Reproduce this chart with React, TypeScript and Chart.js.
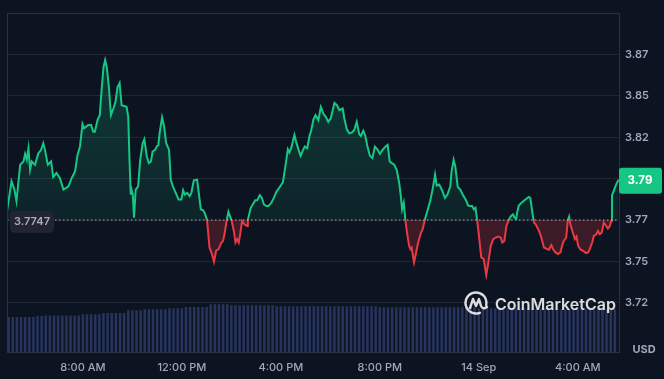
import React, { useEffect, useRef } from "react";
import { Chart, registerables } from "chart.js";

Chart.register(...registerables);

// ---------- data ----------
const BASE_PRICE = 3.7747;
const LAST_PRICE_LABEL = "3.79";
const CURRENCY = "USD";
const WATERMARK = "CoinMarketCap";

// x values: minutes since 00:00 on 13 Sep
const X_MIN = 296;
const X_MAX = 1780;
const X_TICKS = [480, 720, 960, 1200, 1440, 1680];
const X_TICK_LABELS = ["8:00 AM", "12:00 PM", "4:00 PM", "8:00 PM", "14 Sep", "4:00 AM"];

const Y_MIN = 3.6949;
const Y_MAX = 3.9001;
const Y_TICKS = [3.7247, 3.7497, 3.7747, 3.7997, 3.8247, 3.8497, 3.8747];
const Y_TICK_LABELS = ["3.72", "3.75", "3.77", "3.80", "3.82", "3.85", "3.87"];

const priceTimes = [
  296, 307, 314, 319, 328, 336, 340, 344, 348, 352, 356, 364, 372, 378, 384, 388, 395, 403, 408, 416,
  424, 433, 445, 453, 461, 467, 473, 479, 483, 493, 500, 505, 509, 516, 521, 525, 530, 534, 538, 543,
  548, 554, 559, 564, 569, 574, 582, 586, 590, 593, 596, 598, 601, 604, 608, 614, 619, 625, 629, 635,
  640, 645, 649, 655, 659, 663, 666, 672, 677, 682, 689, 693, 698, 707, 712, 719, 723, 727, 733, 739,
  743, 749, 757, 761, 766, 771, 775, 781, 787, 793, 798, 803, 809, 816, 820, 824, 829, 833, 838, 841,
  846, 850, 854, 858, 862, 866, 872, 878, 880, 887, 892, 898, 903, 909, 914, 919, 925, 930, 937, 943,
  949, 957, 965, 971, 977, 981, 985, 993, 997, 1003, 1008, 1014, 1018, 1024, 1030, 1033, 1039, 1044, 1051, 1057,
  1063, 1069, 1075, 1081, 1090, 1096, 1102, 1110, 1114, 1120, 1126, 1132, 1138, 1144, 1150, 1154, 1160, 1165, 1170, 1176,
  1182, 1188, 1195, 1200, 1207, 1212, 1219, 1224, 1229, 1235, 1241, 1247, 1251, 1254, 1258, 1262, 1266, 1271, 1274, 1277,
  1283, 1288, 1293, 1300, 1304, 1309, 1316, 1322, 1328, 1334, 1338, 1344, 1351, 1358, 1364, 1371, 1374, 1379, 1383, 1389,
  1395, 1401, 1409, 1414, 1418, 1424, 1428, 1432, 1436, 1440, 1446, 1452, 1458, 1462, 1469, 1475, 1481, 1486, 1493, 1497,
  1502, 1507, 1513, 1517, 1523, 1527, 1531, 1533, 1537, 1545, 1553, 1561, 1565, 1570, 1574, 1578, 1586, 1591, 1598, 1606,
  1610, 1616, 1620, 1626, 1632, 1638, 1642, 1646, 1652, 1656, 1659, 1662, 1668, 1673, 1677, 1681, 1687, 1693, 1700, 1705,
  1709, 1715, 1719, 1725, 1729, 1733, 1738, 1743, 1749, 1753, 1758, 1761, 1763, 1769, 1774, 1779,
];

const prices = [
  3.7801, 3.7981, 3.7931, 3.7861, 3.8081, 3.8101, 3.8147, 3.8111, 3.8181, 3.8051, 3.8101, 3.8081, 3.8151, 3.8167, 3.8211, 3.8171, 3.8081, 3.8101, 3.8007, 3.8031,
  3.8001, 3.7931, 3.7951, 3.8001, 3.8041, 3.8141, 3.8191, 3.8327, 3.8301, 3.8321, 3.8321, 3.8281, 3.8281, 3.8355, 3.8381, 3.8521, 3.8671, 3.8715, 3.8671, 3.8551,
  3.8381, 3.8421, 3.8461, 3.8551, 3.8575, 3.8441, 3.8435, 3.8431, 3.8371, 3.8111, 3.7901, 3.7931, 3.7901, 3.7761, 3.7931, 3.7951, 3.8111, 3.8211, 3.8235, 3.8131,
  3.8091, 3.8101, 3.8161, 3.8171, 3.8191, 3.8201, 3.8271, 3.8367, 3.8311, 3.8211, 3.8171, 3.7991, 3.7951, 3.7901, 3.7871, 3.7871, 3.7927, 3.7901, 3.7911, 3.7891,
  3.7911, 3.7987, 3.7991, 3.7911, 3.7811, 3.7807, 3.7791, 3.7747, 3.7581, 3.7541, 3.7495, 3.7561, 3.7571, 3.7611, 3.7621, 3.7671, 3.7747, 3.7797, 3.7761, 3.7741,
  3.7681, 3.7611, 3.7631, 3.7611, 3.7671, 3.7741, 3.7721, 3.7711, 3.7747, 3.7821, 3.7841, 3.7867, 3.7867, 3.7897, 3.7881, 3.7841, 3.7831, 3.7831, 3.7851, 3.7881,
  3.7917, 3.7945, 3.7975, 3.8071, 3.8175, 3.8155, 3.8181, 3.8261, 3.8221, 3.8171, 3.8135, 3.8171, 3.8191, 3.8181, 3.8261, 3.8281, 3.8355, 3.8381, 3.8351, 3.8431,
  3.8391, 3.8371, 3.8341, 3.8361, 3.8455, 3.8441, 3.8411, 3.8421, 3.8361, 3.8295, 3.8271, 3.8275, 3.8291, 3.8341, 3.8267, 3.8255, 3.8287, 3.8255, 3.8191, 3.8135,
  3.8121, 3.8191, 3.8171, 3.8147, 3.8171, 3.8187, 3.8201, 3.8101, 3.8091, 3.8081, 3.8051, 3.7971, 3.7891, 3.7811, 3.7851, 3.7747, 3.7671, 3.7591, 3.7571, 3.7581,
  3.7491, 3.7551, 3.7611, 3.7671, 3.7691, 3.7747, 3.7807, 3.7861, 3.7931, 3.8021, 3.7955, 3.7961, 3.7927, 3.7881, 3.7901, 3.7951, 3.8041, 3.8111, 3.8071, 3.7947,
  3.7931, 3.7901, 3.7867, 3.7835, 3.7831, 3.7831, 3.7811, 3.7821, 3.7747, 3.7661, 3.7521, 3.7511, 3.7415, 3.7471, 3.7591, 3.7631, 3.7641, 3.7647, 3.7641, 3.7611,
  3.7621, 3.7711, 3.7747, 3.7767, 3.7781, 3.7761, 3.7755, 3.7791, 3.7835, 3.7855, 3.7871, 3.7887, 3.7881, 3.7791, 3.7731, 3.7721, 3.7681, 3.7647, 3.7581, 3.7571,
  3.7567, 3.7595, 3.7571, 3.7551, 3.7541, 3.7551, 3.7591, 3.7621, 3.7641, 3.7747, 3.7767, 3.7721, 3.7671, 3.7631, 3.7647, 3.7591, 3.7567, 3.7561, 3.7547, 3.7551,
  3.7571, 3.7611, 3.7651, 3.7661, 3.7681, 3.7661, 3.7671, 3.7731, 3.7711, 3.7695, 3.7711, 3.7741, 3.7895, 3.7935, 3.7967, 3.7991,
];

// volume bars, one every 10 minutes starting at VOLUME_START
const VOLUME_START = 300;
const VOLUME_STEP = 10;
const VOLUME_AXIS_MAX = 3420;
const volumes = [
  353, 353, 353, 353, 353, 353, 353, 363, 363,
  367, 367, 367, 367, 367, 367, 367, 367, 367,
  380, 380, 380, 380, 380,
  393, 393, 393, 393, 393, 393,
  420, 420, 420, 420,
  430, 430, 430, 430, 430, 430,
  440, 440, 440, 440,
  453, 453, 453, 453, 453, 453,
  480, 480, 480, 480, 480,
  470, 470, 470, 470, 470, 470, 470, 470, 470, 470, 470,
  460, 460, 460, 460, 460, 460, 460, 460, 460, 460, 460, 460, 460, 460, 460, 460, 460, 460, 460, 460, 460, 460, 460, 460, 460,
  450, 450, 450, 450, 450, 450, 450, 450, 450, 450, 450, 450, 450, 450, 450, 450, 450, 450, 450, 450, 450, 450, 450, 450,
  440, 440, 440, 440, 440, 440, 440, 440, 440, 440, 440, 440, 440, 440, 440, 440, 440,
  432, 432, 432, 432, 432, 432, 432, 432, 432, 432, 432, 432, 432, 432, 432, 432, 432,
];

// ---------- styles ----------
const BG = "#0d1421";
const GREEN = "#16c784";
const RED = "#ea3943";
const TEXT = "#a1a7bb";
const GRID = "#222633";
const FRAME = "#2c3140";
const FONT = "Inter, 'Noto Sans', sans-serif";

export default function App() {
  const ref = useRef<HTMLCanvasElement>(null);

  useEffect(() => {
    const canvas = ref.current;
    if (!canvas) return;

    const baseFrac = (chart: any) => {
      const area = chart.chartArea;
      const yb = chart.scales.y.getPixelForValue(BASE_PRICE);
      return Math.min(1, Math.max(0, (yb - area.top) / (area.bottom - area.top)));
    };

    const lineColor = (ctx: any) => {
      const chart = ctx.chart;
      if (!chart.chartArea || !chart.scales.y) return GREEN;
      const area = chart.chartArea;
      const f = baseFrac(chart);
      const g = chart.ctx.createLinearGradient(0, area.top, 0, area.bottom);
      g.addColorStop(0, GREEN);
      g.addColorStop(f, GREEN);
      g.addColorStop(Math.min(1, f + 0.0001), RED);
      g.addColorStop(1, RED);
      return g;
    };

    const fillColor = (ctx: any) => {
      const chart = ctx.chart;
      if (!chart.chartArea || !chart.scales.y) return "rgba(22,199,132,0.15)";
      const area = chart.chartArea;
      const f = baseFrac(chart);
      const g = chart.ctx.createLinearGradient(0, area.top, 0, area.bottom);
      g.addColorStop(0, "rgba(22,199,132,0.26)");
      g.addColorStop(f, "rgba(22,199,132,0.09)");
      g.addColorStop(Math.min(1, f + 0.0001), "rgba(234,57,67,0.22)");
      g.addColorStop(1, "rgba(234,57,67,0.16)");
      return g;
    };

    const decor = {
      id: "decor",
      afterDraw(chart: any) {
        const { ctx, chartArea: a, scales } = chart;
        ctx.save();
        // frame
        ctx.strokeStyle = FRAME;
        ctx.lineWidth = 1;
        ctx.strokeRect(Math.round(a.left) + 0.5, Math.round(a.top) + 0.5, Math.round(a.right - a.left), Math.round(a.bottom - a.top));

        // base price badge
        const yb = scales.y.getPixelForValue(BASE_PRICE);
        ctx.fillStyle = "#222531";
        ctx.beginPath();
        ctx.roundRect(a.left + 3, yb - 9, 44, 22, 5);
        ctx.fill();
        ctx.fillStyle = "#a6adbd";
        ctx.font = `600 11px ${FONT}`;
        ctx.textAlign = "center";
        ctx.textBaseline = "middle";
        ctx.fillText(BASE_PRICE.toFixed(4), a.left + 25, yb + 2);

        // last price badge
        const yl = scales.y.getPixelForValue(prices[prices.length - 1]);
        ctx.fillStyle = GREEN;
        ctx.beginPath();
        ctx.roundRect(a.right, yl - 12, 43, 26, 3);
        ctx.fill();
        ctx.fillStyle = "#ffffff";
        ctx.font = `700 11.5px ${FONT}`;
        ctx.fillText(LAST_PRICE_LABEL, a.right + 21, yl + 1);

        // currency
        ctx.fillStyle = TEXT;
        ctx.font = `700 11px ${FONT}`;
        ctx.fillText(CURRENCY, a.right + 25, a.bottom - 2);

        // watermark
        const cx = a.right - 143;
        const cy = a.bottom - 49;
        ctx.strokeStyle = "rgba(255,255,255,0.85)";
        ctx.lineWidth = 2.4;
        ctx.lineCap = "round";
        ctx.lineJoin = "round";
        ctx.beginPath();
        ctx.arc(cx, cy, 10.5, 0.38 * Math.PI, 2.08 * Math.PI);
        ctx.stroke();
        ctx.beginPath();
        ctx.moveTo(cx - 6, cy + 5);
        ctx.lineTo(cx - 3, cy - 4);
        ctx.lineTo(cx, cy + 3);
        ctx.lineTo(cx + 3, cy - 4);
        ctx.lineTo(cx + 5, cy + 3);
        ctx.quadraticCurveTo(cx + 7, cy + 7, cx + 11, cy + 4);
        ctx.stroke();
        ctx.fillStyle = "rgba(255,255,255,0.85)";
        ctx.font = `600 16px ${FONT}`;
        ctx.textAlign = "left";
        ctx.fillText(WATERMARK, cx + 19, cy + 2);
        ctx.restore();
      },
    };

    const chart = new Chart(canvas, {
      type: "line",
      data: {
        datasets: [
          {
            type: "line",
            label: "Base",
            data: [
              { x: X_MIN, y: BASE_PRICE },
              { x: X_MAX, y: BASE_PRICE },
            ],
            borderColor: "rgba(205,210,225,0.8)",
            borderWidth: 1,
            borderDash: [1.5, 2.5],
            pointRadius: 0,
            fill: false,
            yAxisID: "y",
            order: -1,
          } as any,
          {
            type: "line",
            label: "Price",
            data: priceTimes.map((t, i) => ({ x: t, y: prices[i] })),
            borderColor: lineColor,
            backgroundColor: fillColor,
            borderWidth: 2,
            pointRadius: 0,
            tension: 0,
            fill: { value: BASE_PRICE },
            yAxisID: "y",
            order: 0,
          } as any,
          {
            type: "bar",
            label: "Volume",
            data: volumes.map((v, i) => ({ x: VOLUME_START + i * VOLUME_STEP, y: v })),
            backgroundColor: "#27345e",
            barPercentage: 0.6,
            categoryPercentage: 1,
            yAxisID: "yv",
            order: 2,
          } as any,
        ],
      },
      options: {
        animation: false,
        responsive: false,
        devicePixelRatio: 1,
        layout: { padding: { top: 10, left: 7, right: 0, bottom: 0 } },
        plugins: { legend: { display: false }, tooltip: { enabled: false } },
        scales: {
          x: {
            type: "linear",
            min: X_MIN,
            max: X_MAX,
            offset: false,
            afterBuildTicks: (s: any) => {
              s.ticks = X_TICKS.map((v) => ({ value: v }));
            },
            afterFit: (s: any) => {
              s.height = 27;
            },
            grid: { display: false, drawTicks: false, offset: false },
            border: { display: false },
            ticks: {
              autoSkip: false,
              maxRotation: 0,
              padding: 9,
              color: TEXT,
              font: { family: FONT, size: 11, weight: "500" },
              callback: (v: any) => X_TICK_LABELS[X_TICKS.indexOf(Number(v))] ?? "",
            },
          },
          y: {
            type: "linear",
            position: "right",
            min: Y_MIN,
            max: Y_MAX,
            afterBuildTicks: (s: any) => {
              s.ticks = Y_TICKS.map((v) => ({ value: v }));
            },
            afterFit: (s: any) => {
              s.width = 45;
            },
            grid: { color: GRID, drawTicks: false, lineWidth: 1 },
            border: { display: false },
            ticks: {
              padding: 6,
              color: TEXT,
              font: { family: FONT, size: 11, weight: "600" },
              callback: (v: any) => {
                const i = Y_TICKS.findIndex((t) => Math.abs(t - Number(v)) < 1e-6);
                return i >= 0 ? Y_TICK_LABELS[i] : "";
              },
            },
          },
          yv: {
            type: "linear",
            display: false,
            min: 0,
            max: VOLUME_AXIS_MAX,
          },
        },
      } as any,
      plugins: [decor],
    });

    return () => chart.destroy();
  }, []);

  return (
    <div style={{ position: "fixed", left: 0, top: 0, width: 664, height: 379, background: BG }}>
      <canvas ref={ref} width={664} height={379} style={{ display: "block", width: 664, height: 379 }} />
    </div>
  );
}
